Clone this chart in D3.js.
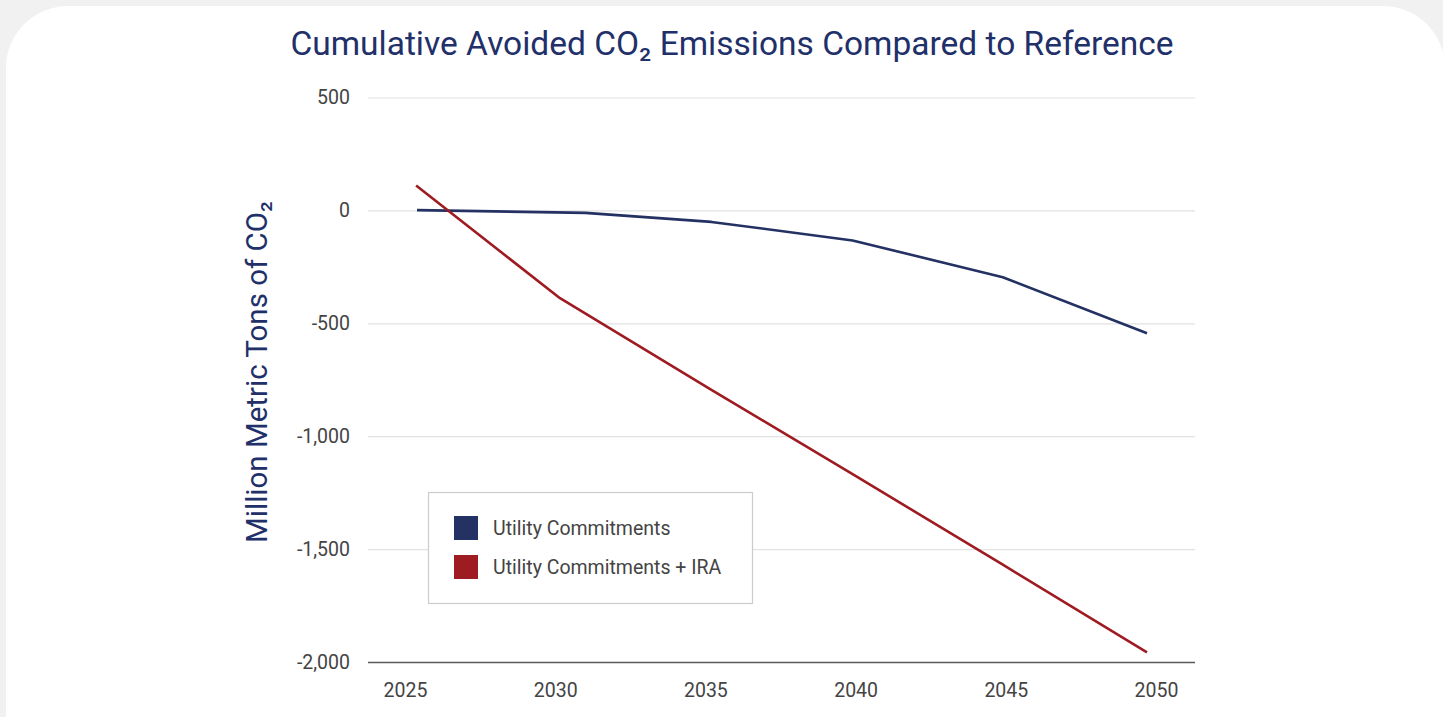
<!DOCTYPE html>
<html>
<head>
<meta charset="utf-8">
<script src="https://cdn.jsdelivr.net/npm/d3@7/dist/d3.min.js"></script>
<style>
  html, body { margin: 0; padding: 0; background: #f2f1f1; }
  svg { display: block; font-family: Roboto, "Noto Sans", sans-serif; }
</style>
</head>
<body>
<svg id="chart" width="1443" height="717"></svg>
<script>
// Cumulative avoided emissions, million metric tons CO2 (year, value)
const commitYears = [2025.4, 2031.0, 2035.2, 2039.9, 2044.9, 2049.7];
const commitValues = [1, -11, -51, -133, -296, -544];
const iraYears = [2025.37, 2030.16, 2035.2, 2039.9, 2044.9, 2049.7];
const iraValues = [110, -389, -795, -1168, -1569, -1957];

const xTicks = [2025, 2030, 2035, 2040, 2045, 2050];
const yTicks = [500, 0, -500, -1000, -1500, -2000];

const seriesNames = ["Utility Commitments", "Utility Commitments + IRA"];
const seriesColors = ["#233163", "#9e1b22"];

const titleText = "Cumulative Avoided CO\u2082 Emissions Compared to Reference";
const yLabelText = "Million Metric Tons of CO\u2082";

const svg = d3.select("#chart");

// white card
svg.append("rect")
  .attr("x", 6).attr("y", 6)
  .attr("width", 1439).attr("height", 800)
  .attr("rx", 62).attr("ry", 62)
  .attr("fill", "#ffffff");

const plot = { left: 368, right: 1195, top: 97.5, bottom: 662 };

const x = d3.scaleLinear()
  .domain([2025, 2050])
  .range([405, 1156]);

const y = d3.scaleLinear()
  .domain([-2000, 500])
  .range([plot.bottom, plot.top]);

// title
svg.append("text")
  .attr("x", 732).attr("y", 55)
  .attr("text-anchor", "middle")
  .attr("fill", "#22306a")
  .attr("font-size", 33.5)
  .text(titleText);

// y axis title
svg.append("text")
  .attr("transform", "translate(267,372) rotate(-90)")
  .attr("text-anchor", "middle")
  .attr("fill", "#22306a")
  .attr("font-size", 29.5)
  .text(yLabelText);

const numFmt = d => d3.format(",d")(d).replace("\u2212", "-");

// gridlines + y tick labels
const yAxis = d3.axisLeft(y)
  .tickValues(yTicks)
  .tickSize(-(plot.right - plot.left))
  .tickPadding(18)
  .tickFormat(numFmt);

const gy = svg.append("g")
  .attr("transform", `translate(${plot.left},0)`)
  .call(yAxis);
gy.select(".domain").remove();
gy.selectAll(".tick line")
  .attr("stroke", d => d === -2000 ? "#5a5a5a" : "#e2e2e2")
  .attr("stroke-width", d => d === -2000 ? 1.5 : 1.2);
gy.selectAll(".tick text")
  .attr("fill", "#444")
  .attr("font-size", 19.5)
  .attr("font-family", "Roboto, sans-serif");

// x axis labels
const xAxis = d3.axisBottom(x)
  .tickValues(xTicks)
  .tickSize(0)
  .tickPadding(21)
  .tickFormat(d3.format("d"));

const gx = svg.append("g")
  .attr("transform", `translate(0,${plot.bottom})`)
  .call(xAxis);
gx.select(".domain").remove();
gx.selectAll(".tick text")
  .attr("fill", "#444")
  .attr("font-size", 19.5)
  .attr("font-family", "Roboto, sans-serif");

// lines
const series = [
  { name: seriesNames[0], color: seriesColors[0], pts: d3.zip(commitYears, commitValues) },
  { name: seriesNames[1], color: seriesColors[1], pts: d3.zip(iraYears, iraValues) }
];

const line = d3.line()
  .x(d => x(d[0]))
  .y(d => y(d[1]));

svg.selectAll("path.series")
  .data(series)
  .join("path")
  .attr("class", "series")
  .attr("d", d => line(d.pts))
  .attr("fill", "none")
  .attr("stroke", d => d.color)
  .attr("stroke-width", 2.6)
  .attr("stroke-linejoin", "round");

// legend
const legend = svg.append("g").attr("transform", "translate(428,492)");
legend.append("rect")
  .attr("x", 0.5).attr("y", 0.5)
  .attr("width", 324).attr("height", 111)
  .attr("fill", "#ffffff")
  .attr("stroke", "#cccccc")
  .attr("stroke-width", 1.2);

const items = legend.selectAll("g.item")
  .data(series)
  .join("g")
  .attr("class", "item")
  .attr("transform", (d, i) => `translate(26,${24 + i * 39})`);
items.append("rect")
  .attr("width", 24).attr("height", 24)
  .attr("fill", d => d.color);
items.append("text")
  .attr("x", 39).attr("y", 19)
  .attr("fill", "#444")
  .attr("font-size", 19.5)
  .text(d => d.name);
</script>
</body>
</html>
